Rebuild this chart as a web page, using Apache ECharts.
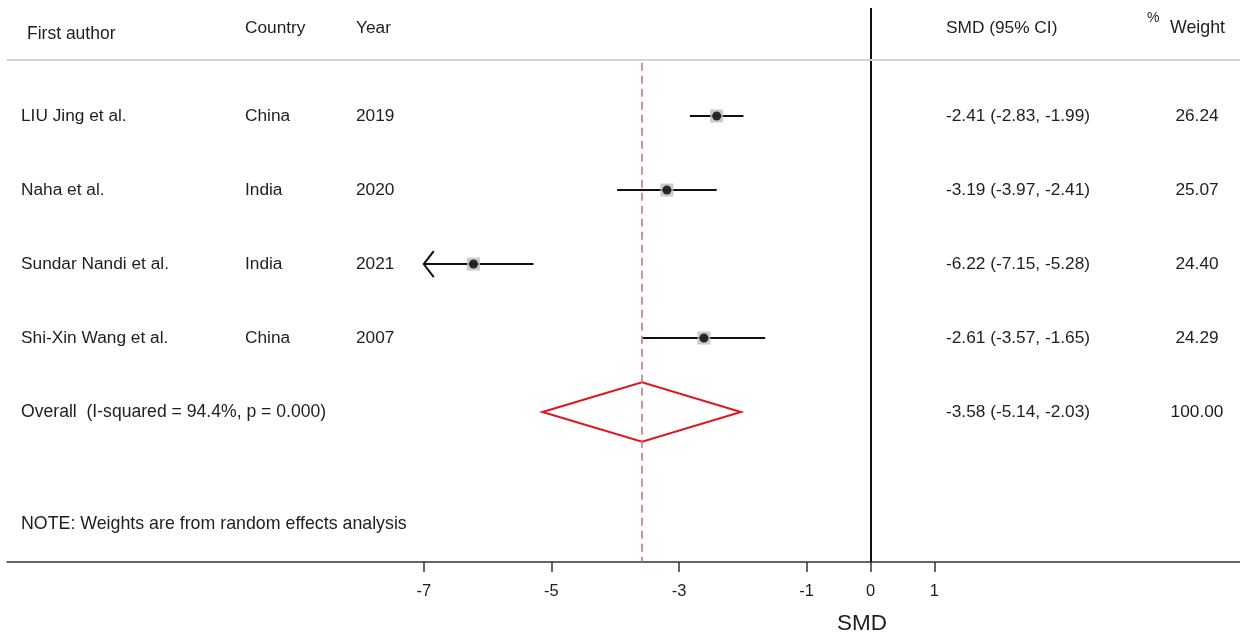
<!DOCTYPE html>
<html><head><meta charset="utf-8">
<script src="https://cdn.jsdelivr.net/npm/echarts@6/dist/echarts.min.js"></script>
<style>html,body{margin:0;padding:0;background:#fff}#c{width:1240px;height:637px}</style>
</head><body><div id="c"></div>
<script>
// ---- data ----
const authors   = ['LIU Jing et al.', 'Naha et al.', 'Sundar Nandi et al.', 'Shi-Xin Wang et al.'];
const countries = ['China', 'India', 'India', 'China'];
const years     = ['2019', '2020', '2021', '2007'];
const smd       = [-2.41, -3.19, -6.22, -2.61];
const lower     = [-2.83, -3.97, -7.15, -3.57];
const upper     = [-1.99, -2.41, -5.28, -1.65];
const weights   = ['26.24', '25.07', '24.40', '24.29'];
const overallLabel  = 'Overall  (I-squared = 94.4%, p = 0.000)';
const overallSmd    = -3.58;
const overallLower  = -5.14;
const overallUpper  = -2.03;
const overallWeight = '100.00';
const xTicks = [-7, -5, -3, -1, 0, 1];
const xClip = -7;

const FONT = '"Liberation Sans", Arial, sans-serif';
const TXT = '#1e1e1e';
const FS = 17.3;
const fmt = v => v.toFixed(2);
const ciText = (s, l, u) => fmt(s) + ' (' + fmt(l) + ', ' + fmt(u) + ')';
const overallRow = authors.length;

function txt(x, y, s, align, size) {
  return {type: 'text', style: {text: s, x: x, y: y, fill: TXT, fontSize: size || FS, fontFamily: FONT,
    align: align || 'left', textAlign: align || 'left', verticalAlign: 'middle', textVerticalAlign: 'middle'}};
}
function gtxt(x, y, s, size, align) {
  return {type: 'text', x: x, y: y, style: {text: s, fontSize: size, fontFamily: FONT, fill: TXT,
    align: align || 'left', verticalAlign: 'middle'}};
}

const chart = echarts.init(document.getElementById('c'));
chart.setOption({
  animation: false,
  backgroundColor: '#fff',
  grid: {left: 7, right: 0, top: 8, bottom: 75},
  xAxis: {
    type: 'value', min: -13.53, max: 5.79,
    splitLine: {show: false},
    axisLine: {show: true, onZero: false, lineStyle: {color: '#333', width: 1.5}},
    axisTick: {show: true, customValues: xTicks, length: 10, lineStyle: {color: '#333', width: 1.5}},
    axisLabel: {customValues: xTicks, fontSize: 16.5, color: TXT, fontFamily: FONT, margin: 21}
  },
  yAxis: {type: 'value', inverse: true, min: -1.46, max: 6.027, show: false},
  graphic: [
    gtxt(27, 34, 'First author', 17.5),
    gtxt(245, 28, 'Country', FS),
    gtxt(356, 28, 'Year', FS),
    gtxt(946, 28, 'SMD (95% CI)', FS),
    gtxt(1147, 18, '%', 14),
    gtxt(1170, 28, 'Weight', 17.8),
    gtxt(21, 524, 'NOTE: Weights are from random effects analysis', 17.8),
    gtxt(862, 624, 'SMD', 22.5, 'center')
  ],
  series: [
    {
      type: 'custom', silent: true,
      data: smd.map((v, i) => [i, lower[i], upper[i]]),
      renderItem: function (params, api) {
        const row = api.value(0), lo = api.value(1), hi = api.value(2);
        const a = api.coord([Math.max(lo, xClip), row]);
        const b = api.coord([hi, row]);
        const children = [{type: 'line', shape: {x1: a[0], y1: a[1], x2: b[0], y2: b[1]}, style: {stroke: '#111', lineWidth: 2}}];
        if (lo < xClip) {
          children.push({type: 'polyline', shape: {points: [[a[0] + 10, a[1] - 13], [a[0], a[1]], [a[0] + 10, a[1] + 13]]},
            style: {stroke: '#111', lineWidth: 2, fill: null}});
        }
        return {type: 'group', children: children};
      },
      markLine: {
        silent: true, symbol: 'none', label: {show: false},
        data: [
          [{coord: [0, -1.46], lineStyle: {color: '#111', width: 2, type: 'solid'}}, {coord: [0, 6.027]}],
          [{coord: [overallSmd, -0.72], lineStyle: {color: '#c0707f', width: 1.5, type: [8, 5]}}, {coord: [overallSmd, 6.027]}],
          [{coord: [-13.53, -0.757], lineStyle: {color: '#d4d4d4', width: 2, type: 'solid'}}, {coord: [5.79, -0.757]}]
        ]
      }
    },
    {
      type: 'scatter', silent: true, symbol: 'rect', symbolSize: 13,
      itemStyle: {color: '#bdbdbd'},
      data: smd.map((v, i) => [v, i])
    },
    {
      type: 'scatter', silent: true, symbol: 'circle', symbolSize: 9,
      itemStyle: {color: '#000'},
      data: smd.map((v, i) => [v, i])
    },
    {
      type: 'custom', silent: true,
      data: [[overallSmd, overallLower, overallUpper, overallRow]],
      renderItem: function (params, api) {
        const s = api.value(0), lo = api.value(1), hi = api.value(2), row = api.value(3);
        const c = api.coord([s, row]);
        const top = api.coord([s, row - 0.4]);
        const bot = api.coord([s, row + 0.4]);
        const l = api.coord([lo, row]);
        const r = api.coord([hi, row]);
        return {type: 'polygon', shape: {points: [[l[0], c[1]], [top[0], top[1]], [r[0], c[1]], [bot[0], bot[1]]]},
          style: {stroke: '#e3141c', lineWidth: 2, fill: null}};
      }
    },
    {
      type: 'custom', silent: true,
      data: authors.map((a, i) => [i]).concat([[overallRow]]),
      renderItem: function (params, api) {
        const row = api.value(0);
        const y = api.coord([0, row])[1];
        if (row === overallRow) {
          return {type: 'group', children: [
            txt(21, y, overallLabel, 'left', 17.6),
            txt(946, y, ciText(overallSmd, overallLower, overallUpper)),
            txt(1197, y, overallWeight, 'center')
          ]};
        }
        return {type: 'group', children: [
          txt(21, y, authors[row]),
          txt(245, y, countries[row]),
          txt(356, y, years[row]),
          txt(946, y, ciText(smd[row], lower[row], upper[row])),
          txt(1197, y, weights[row], 'center')
        ]};
      }
    }
  ]
});
</script>
</body></html>
